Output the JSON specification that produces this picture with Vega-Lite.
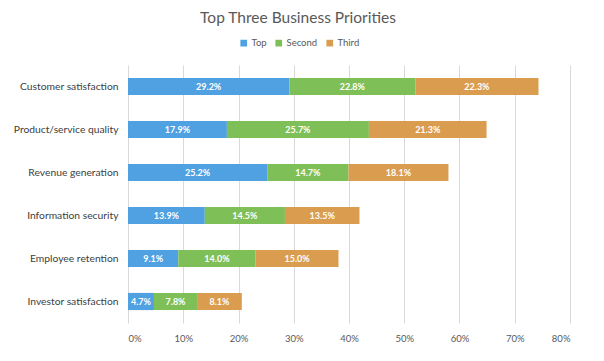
{
  "$schema": "https://vega.github.io/schema/vega-lite/v6.json",
  "autosize": {"type": "none"},
  "width": 442,
  "height": 258,
  "padding": {"left": 128, "top": 65, "right": 34, "bottom": 38},
  "background": "white",
  "title": {
    "text": "Top Three Business Priorities",
    "anchor": "middle",
    "dx": -51,
    "offset": 12,
    "fontSize": 15.5,
    "font": "Lato",
    "fontWeight": "normal",
    "color": "#595959"
  },
  "data": {
    "values": [
      {"item": "Customer satisfaction", "rank": "Top", "k": 1, "value": 0.292},
      {"item": "Customer satisfaction", "rank": "Second", "k": 2, "value": 0.228},
      {"item": "Customer satisfaction", "rank": "Third", "k": 3, "value": 0.223},
      {"item": "Product/service quality", "rank": "Top", "k": 1, "value": 0.179},
      {"item": "Product/service quality", "rank": "Second", "k": 2, "value": 0.257},
      {"item": "Product/service quality", "rank": "Third", "k": 3, "value": 0.213},
      {"item": "Revenue generation", "rank": "Top", "k": 1, "value": 0.252},
      {"item": "Revenue generation", "rank": "Second", "k": 2, "value": 0.147},
      {"item": "Revenue generation", "rank": "Third", "k": 3, "value": 0.181},
      {"item": "Information security", "rank": "Top", "k": 1, "value": 0.139},
      {"item": "Information security", "rank": "Second", "k": 2, "value": 0.145},
      {"item": "Information security", "rank": "Third", "k": 3, "value": 0.135},
      {"item": "Employee retention", "rank": "Top", "k": 1, "value": 0.091},
      {"item": "Employee retention", "rank": "Second", "k": 2, "value": 0.140},
      {"item": "Employee retention", "rank": "Third", "k": 3, "value": 0.150},
      {"item": "Investor satisfaction", "rank": "Top", "k": 1, "value": 0.047},
      {"item": "Investor satisfaction", "rank": "Second", "k": 2, "value": 0.078},
      {"item": "Investor satisfaction", "rank": "Third", "k": 3, "value": 0.081}
    ]
  },
  "transform": [
    {"stack": "value", "groupby": ["item"], "sort": [{"field": "k"}], "as": ["x0", "x1"]},
    {"calculate": "(datum.x0 + datum.x1) / 2", "as": "xmid"}
  ],
  "encoding": {
    "y": {
      "field": "item",
      "type": "nominal",
      "sort": null,
      "title": null,
      "scale": {"paddingInner": 0.6, "paddingOuter": 0.3},
      "axis": {
        "ticks": false,
        "domain": false,
        "labelPadding": 10,
        "labelFont": "Lato",
        "labelFontSize": 10.3,
        "labelColor": "#404040"
      }
    }
  },
  "layer": [
    {
      "mark": {"type": "bar"},
      "encoding": {
        "x": {
          "field": "x0",
          "type": "quantitative",
          "scale": {"domain": [0, 0.8]},
          "title": null,
          "axis": {
            "format": ".0%",
            "values": [0, 0.1, 0.2, 0.3, 0.4, 0.5, 0.6, 0.7, 0.8],
            "domain": false,
            "ticks": false,
            "grid": true,
            "gridColor": "#d9d9d9",
            "labelPadding": 10,
            "labelFont": "Lato",
            "labelFontSize": 9.5,
            "labelColor": "#595959"
          }
        },
        "x2": {"field": "x1"},
        "color": {
          "field": "rank",
          "type": "nominal",
          "scale": {"domain": ["Top", "Second", "Third"], "range": ["#4FA1E2", "#7FBF58", "#DA9D50"]},
          "legend": {
            "orient": "none",
            "direction": "horizontal",
            "legendX": 111,
            "legendY": -27,
            "title": null,
            "symbolType": "square",
            "symbolSize": 45,
            "symbolStrokeWidth": 0,
            "labelFont": "Lato",
            "labelFontSize": 9.5,
            "labelColor": "#595959",
            "labelOffset": 3,
            "columnPadding": 7
          }
        }
      }
    },
    {
      "mark": {"type": "text", "color": "white", "font": "Lato", "fontSize": 9, "fontWeight": "bold", "align": "center", "baseline": "middle"},
      "encoding": {
        "x": {"field": "xmid", "type": "quantitative"},
        "text": {"field": "value", "type": "quantitative", "format": ".1%"}
      }
    }
  ],
  "config": {"view": {"stroke": null}}
}
